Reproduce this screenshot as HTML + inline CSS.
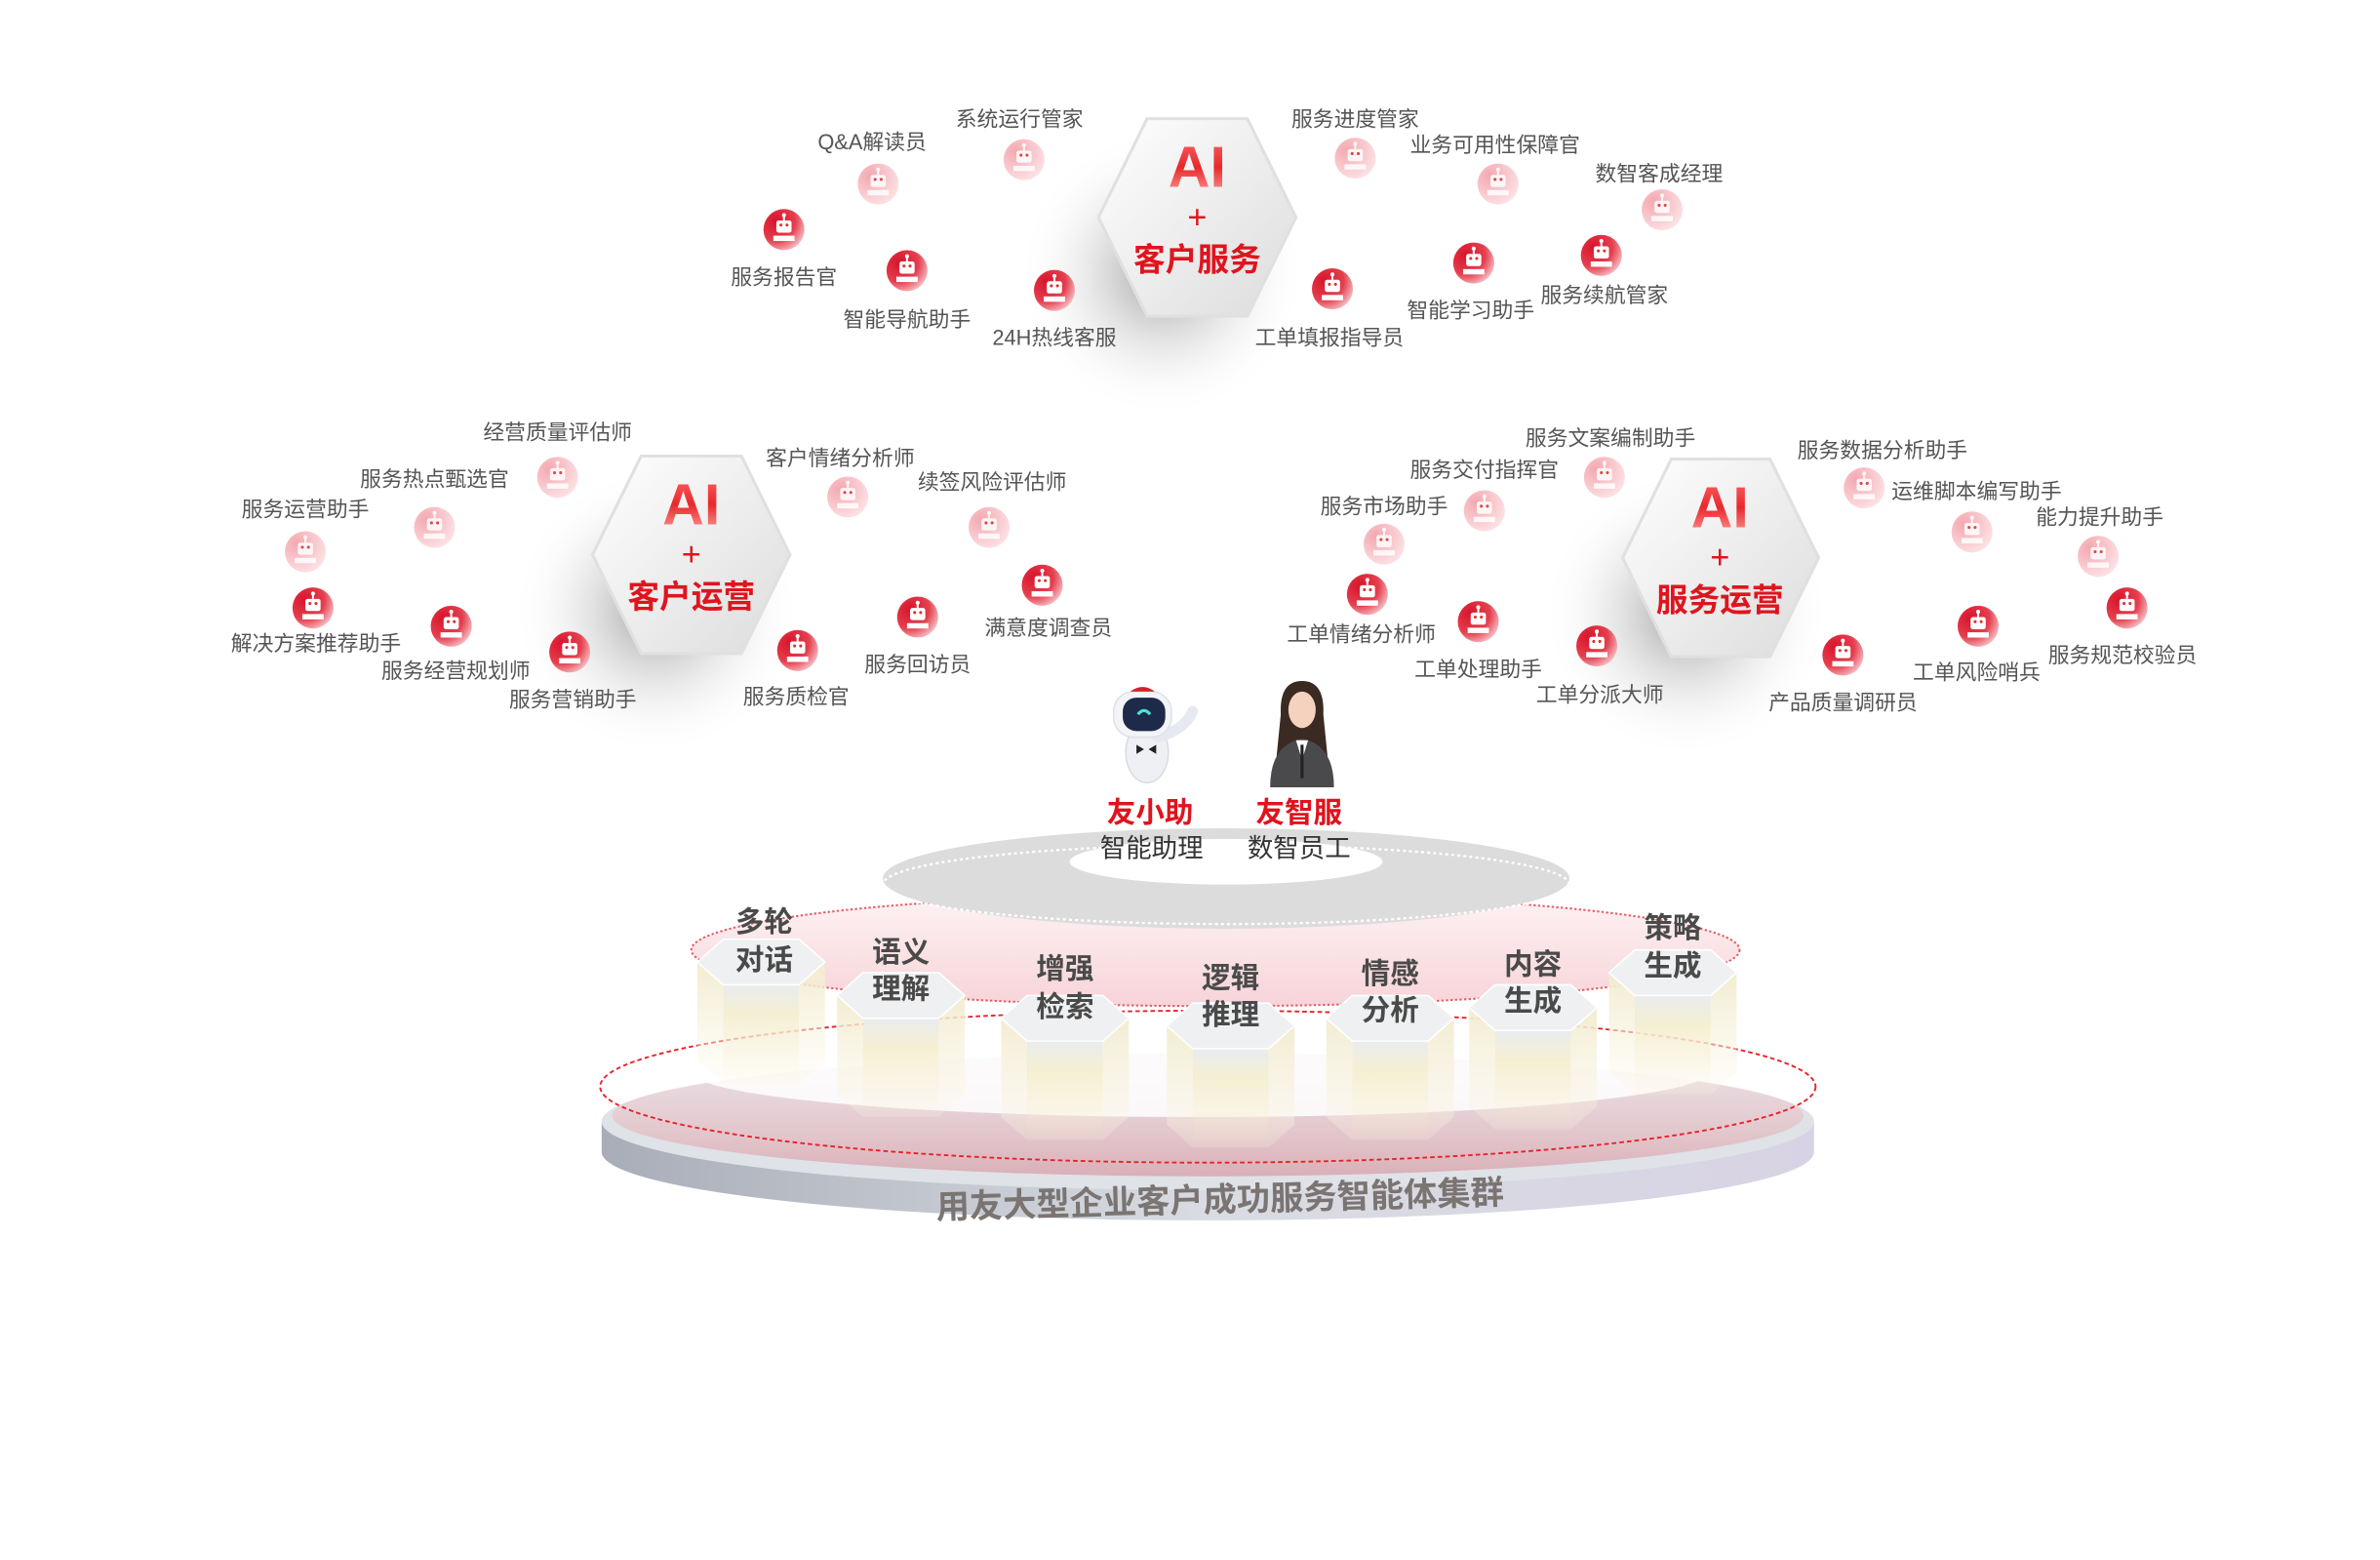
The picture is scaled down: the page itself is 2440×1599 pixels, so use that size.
<!DOCTYPE html>
<html><head><meta charset="utf-8"><style>
html,body{margin:0;padding:0;background:#fff;}
svg{display:block;}
text{font-family:"Liberation Sans","Noto Sans CJK SC",sans-serif;}
.l{font-size:14px;fill:#555;text-anchor:middle;}
.p{font-size:19px;font-weight:bold;fill:#4a4a4a;text-anchor:middle;}
</style></head><body>
<svg width="2440" height="1599" viewBox="0 0 1566.5 1026.4" xmlns="http://www.w3.org/2000/svg">
<defs>
<radialGradient id="dk" cx="0.3" cy="0.3" r="0.8"><stop offset="0" stop-color="#d8142b"/><stop offset="0.6" stop-color="#e4404f"/><stop offset="1" stop-color="#f7c6cb"/></radialGradient>
<radialGradient id="lt" cx="0.3" cy="0.3" r="0.8"><stop offset="0" stop-color="#f3a8b0"/><stop offset="1" stop-color="#fde4e7"/></radialGradient>
<symbol id="rb" viewBox="-14 -14 28 28" overflow="visible">
<line x1="0" y1="-9" x2="0" y2="-6" stroke="#fff" stroke-width="1.3"/><circle cx="0" cy="-9.5" r="1.3" fill="#fff"/>
<rect x="-5" y="-6" width="10" height="8" rx="1.5" fill="#fff"/>
<circle cx="-2" cy="-3" r="1" fill="#d33"/><circle cx="2" cy="-3" r="1" fill="#d33"/>
<rect x="-7" y="4" width="14" height="3.5" fill="#fff"/>
</symbol>
<g id="D"><circle r="13.5" fill="url(#dk)"/><use href="#rb" x="-14" y="-14" width="28" height="28"/></g>
<g id="L"><circle r="13.5" fill="url(#lt)"/><use href="#rb" x="-14" y="-14" width="28" height="28" opacity="0.85"/></g>
<radialGradient id="sh" cx="0.5" cy="0.5" r="0.5"><stop offset="0" stop-color="#888" stop-opacity="0.8"/><stop offset="1" stop-color="#fff" stop-opacity="0"/></radialGradient>
<linearGradient id="hx" x1="0" y1="0" x2="1" y2="1"><stop offset="0" stop-color="#fff"/><stop offset="1" stop-color="#dcdcdc"/></linearGradient>
<linearGradient id="ai" x1="0" y1="0" x2="0" y2="1"><stop offset="0" stop-color="#ff6a6a"/><stop offset="0.5" stop-color="#e8282c"/><stop offset="1" stop-color="#ffb0a8"/></linearGradient>
<linearGradient id="col" x1="0" y1="0" x2="0" y2="1"><stop offset="0" stop-color="#e9ecef"/><stop offset="0.3" stop-color="#f5efd2"/><stop offset="1" stop-color="#faf3dc" stop-opacity="0.2"/></linearGradient>
<linearGradient id="colS" x1="0" y1="0" x2="0" y2="1"><stop offset="0" stop-color="#f2ecd0"/><stop offset="1" stop-color="#fbf6e4" stop-opacity="0.2"/></linearGradient>
<linearGradient id="side" x1="0" y1="0" x2="1" y2="0"><stop offset="0" stop-color="#a8adb8"/><stop offset="0.5" stop-color="#d9dce2"/><stop offset="1" stop-color="#d8d3e4"/></linearGradient>
<linearGradient id="pk" x1="0" y1="0" x2="0" y2="1"><stop offset="0" stop-color="#f7dbde" stop-opacity="0.4"/><stop offset="1" stop-color="#d9a9b1"/></linearGradient>
<linearGradient id="pk2" x1="0" y1="0" x2="0" y2="1"><stop offset="0" stop-color="#fdf0f1"/><stop offset="1" stop-color="#f5c9cf"/></linearGradient>
</defs>

<g>
<ellipse cx="765" cy="180" rx="95" ry="95" fill="url(#sh)"/>
<polygon points="723,143 755,78 821,78 853,143 821,208 755,208" fill="url(#hx)" stroke="#e0e0e0" stroke-width="2"/>
<text x="788" y="123" font-size="38" font-weight="bold" fill="url(#ai)" text-anchor="middle">AI</text>
<text x="788" y="150" font-size="22" fill="#e0141e" text-anchor="middle">+</text>
<text x="788" y="178" font-size="21" font-weight="bold" fill="#e0141e" text-anchor="middle">客户服务</text>
</g>
<g>
<ellipse cx="432" cy="402" rx="95" ry="95" fill="url(#sh)"/>
<polygon points="390,365 422,300 488,300 520,365 488,430 422,430" fill="url(#hx)" stroke="#e0e0e0" stroke-width="2"/>
<text x="455" y="345" font-size="38" font-weight="bold" fill="url(#ai)" text-anchor="middle">AI</text>
<text x="455" y="372" font-size="22" fill="#e0141e" text-anchor="middle">+</text>
<text x="455" y="400" font-size="21" font-weight="bold" fill="#e0141e" text-anchor="middle">客户运营</text>
</g>
<g>
<ellipse cx="1110" cy="404" rx="95" ry="95" fill="url(#sh)"/>
<polygon points="1068,367 1100,302 1165,302 1197,367 1165,432 1100,432" fill="url(#hx)" stroke="#e0e0e0" stroke-width="2"/>
<text x="1132" y="347" font-size="38" font-weight="bold" fill="url(#ai)" text-anchor="middle">AI</text>
<text x="1132" y="374" font-size="22" fill="#e0141e" text-anchor="middle">+</text>
<text x="1132" y="402" font-size="21" font-weight="bold" fill="#e0141e" text-anchor="middle">服务运营</text>
</g>

<use href="#L" x="578" y="121"/><text class="l" x="574" y="98">Q&amp;A解读员</text>
<use href="#L" x="674" y="105"/><text class="l" x="671" y="83">系统运行管家</text>
<use href="#D" x="516" y="151"/><text class="l" x="516" y="187">服务报告官</text>
<use href="#D" x="597" y="178"/><text class="l" x="597" y="215">智能导航助手</text>
<use href="#D" x="694" y="191"/><text class="l" x="694" y="227">24H热线客服</text>
<use href="#L" x="892" y="104"/><text class="l" x="892" y="83">服务进度管家</text>
<use href="#L" x="986" y="121"/><text class="l" x="984" y="100">业务可用性保障官</text>
<use href="#L" x="1094" y="138"/><text class="l" x="1092" y="119">数智客成经理</text>
<use href="#D" x="877" y="190"/><text class="l" x="875" y="227">工单填报指导员</text>
<use href="#D" x="970" y="173"/><text class="l" x="968" y="209">智能学习助手</text>
<use href="#D" x="1054" y="168"/><text class="l" x="1056" y="199">服务续航管家</text>

<use href="#L" x="367" y="314"/><text class="l" x="367" y="289">经营质量评估师</text>
<use href="#L" x="286" y="347"/><text class="l" x="286" y="320">服务热点甄选官</text>
<use href="#L" x="201" y="363"/><text class="l" x="201" y="340">服务运营助手</text>
<use href="#D" x="206" y="400"/><text class="l" x="208" y="428">解决方案推荐助手</text>
<use href="#D" x="297" y="412"/><text class="l" x="300" y="446">服务经营规划师</text>
<use href="#D" x="375" y="429"/><text class="l" x="377" y="465">服务营销助手</text>
<use href="#L" x="558" y="327"/><text class="l" x="553" y="306">客户情绪分析师</text>
<use href="#L" x="651" y="347"/><text class="l" x="653" y="322">续签风险评估师</text>
<use href="#D" x="686" y="385"/><text class="l" x="690" y="418">满意度调查员</text>
<use href="#D" x="604" y="406"/><text class="l" x="604" y="442">服务回访员</text>
<use href="#D" x="525" y="428"/><text class="l" x="524" y="463">服务质检官</text>

<use href="#L" x="1056" y="314"/><text class="l" x="1060" y="293">服务文案编制助手</text>
<use href="#L" x="977" y="336"/><text class="l" x="977" y="314">服务交付指挥官</text>
<use href="#L" x="911" y="358"/><text class="l" x="911" y="338">服务市场助手</text>
<use href="#D" x="900" y="391"/><text class="l" x="896" y="422">工单情绪分析师</text>
<use href="#D" x="973" y="409"/><text class="l" x="973" y="445">工单处理助手</text>
<use href="#D" x="1051" y="425"/><text class="l" x="1053" y="462">工单分派大师</text>
<use href="#L" x="1227" y="321"/><text class="l" x="1239" y="301">服务数据分析助手</text>
<use href="#L" x="1298" y="350"/><text class="l" x="1301" y="328">运维脚本编写助手</text>
<use href="#L" x="1381" y="366"/><text class="l" x="1382" y="345">能力提升助手</text>
<use href="#D" x="1400" y="400"/><text class="l" x="1397" y="436">服务规范校验员</text>
<use href="#D" x="1302" y="412"/><text class="l" x="1301" y="447">工单风险哨兵</text>
<use href="#D" x="1213" y="431"/><text class="l" x="1213" y="467">产品质量调研员</text>

<path d="M396,738 L396,758 A399,45 0 0 0 1194,758 L1194,738 Z" fill="url(#side)"/>
<ellipse cx="795" cy="738" rx="399" ry="45" fill="#dfe2e7"/>
<ellipse cx="795" cy="734" rx="392" ry="40" fill="url(#pk)" opacity="0.9"/>
<ellipse cx="795" cy="715" rx="400" ry="50" fill="none" stroke="#e8202a" stroke-width="1.2" stroke-dasharray="3,2"/>
<ellipse cx="790" cy="705" rx="335" ry="30" fill="#fff" opacity="0.85"/>
<text x="803" y="797" font-size="22" font-weight="bold" fill="#7a7472" text-anchor="middle" transform="rotate(-1.5 803 790)">用友大型企业客户成功服务智能体集群</text>

<ellipse cx="800" cy="625" rx="345" ry="37" fill="url(#pk2)" opacity="0.8"/>
<ellipse cx="800" cy="625" rx="345" ry="37" fill="none" stroke="#e85a64" stroke-width="1.3" stroke-dasharray="1.5,1.5"/>
<ellipse cx="807" cy="578" rx="226" ry="33" fill="#dcdcdc"/>
<ellipse cx="807" cy="582" rx="226" ry="26" fill="none" stroke="#fff" stroke-width="1.5" stroke-dasharray="2,2"/>
<ellipse cx="807" cy="567" rx="103" ry="15" fill="#fff"/>

<g>
<g transform="translate(501,618)"><polygon points="-42,15 -25,30 -25,95 -42,80" fill="url(#colS)"/><rect x="-25" y="30" width="50" height="65" fill="url(#col)"/><polygon points="42,15 25,30 25,95 42,80" fill="url(#colS)"/><polygon points="-42,15 -25,0 25,0 42,15 25,30 -25,30" fill="#eef0f2" stroke="#fff"/></g>
<g transform="translate(593,640)"><polygon points="-42,15 -25,30 -25,95 -42,80" fill="url(#colS)"/><rect x="-25" y="30" width="50" height="65" fill="url(#col)"/><polygon points="42,15 25,30 25,95 42,80" fill="url(#colS)"/><polygon points="-42,15 -25,0 25,0 42,15 25,30 -25,30" fill="#eef0f2" stroke="#fff"/></g>
<g transform="translate(701,655)"><polygon points="-42,15 -25,30 -25,95 -42,80" fill="url(#colS)"/><rect x="-25" y="30" width="50" height="65" fill="url(#col)"/><polygon points="42,15 25,30 25,95 42,80" fill="url(#colS)"/><polygon points="-42,15 -25,0 25,0 42,15 25,30 -25,30" fill="#eef0f2" stroke="#fff"/></g>
<g transform="translate(810,660)"><polygon points="-42,15 -25,30 -25,95 -42,80" fill="url(#colS)"/><rect x="-25" y="30" width="50" height="65" fill="url(#col)"/><polygon points="42,15 25,30 25,95 42,80" fill="url(#colS)"/><polygon points="-42,15 -25,0 25,0 42,15 25,30 -25,30" fill="#eef0f2" stroke="#fff"/></g>
<g transform="translate(915,655)"><polygon points="-42,15 -25,30 -25,95 -42,80" fill="url(#colS)"/><rect x="-25" y="30" width="50" height="65" fill="url(#col)"/><polygon points="42,15 25,30 25,95 42,80" fill="url(#colS)"/><polygon points="-42,15 -25,0 25,0 42,15 25,30 -25,30" fill="#eef0f2" stroke="#fff"/></g>
<g transform="translate(1009,648)"><polygon points="-42,15 -25,30 -25,95 -42,80" fill="url(#colS)"/><rect x="-25" y="30" width="50" height="65" fill="url(#col)"/><polygon points="42,15 25,30 25,95 42,80" fill="url(#colS)"/><polygon points="-42,15 -25,0 25,0 42,15 25,30 -25,30" fill="#eef0f2" stroke="#fff"/></g>
<g transform="translate(1101,625)"><polygon points="-42,15 -25,30 -25,95 -42,80" fill="url(#colS)"/><rect x="-25" y="30" width="50" height="65" fill="url(#col)"/><polygon points="42,15 25,30 25,95 42,80" fill="url(#colS)"/><polygon points="-42,15 -25,0 25,0 42,15 25,30 -25,30" fill="#eef0f2" stroke="#fff"/></g>
</g>
<text class="p" x="503" y="613">多轮</text><text class="p" x="503" y="638">对话</text>
<text class="p" x="593" y="633">语义</text><text class="p" x="593" y="657">理解</text>
<text class="p" x="701" y="644">增强</text><text class="p" x="701" y="669">检索</text>
<text class="p" x="810" y="650">逻辑</text><text class="p" x="810" y="674">推理</text>
<text class="p" x="915" y="647">情感</text><text class="p" x="915" y="671">分析</text>
<text class="p" x="1009" y="641">内容</text><text class="p" x="1009" y="665">生成</text>
<text class="p" x="1101" y="617">策略</text><text class="p" x="1101" y="642">生成</text>

<g>
<ellipse cx="755" cy="495" rx="14" ry="20" fill="#eef0f4" stroke="#d8dce4"/>
<path d="M762,485 Q780,480 785,468" stroke="#e6e9ef" stroke-width="7" fill="none" stroke-linecap="round"/>
<rect x="733" y="455" width="38" height="30" rx="13" fill="#f2f4f7" stroke="#dde1e8"/>
<rect x="739" y="459" width="28" height="22" rx="9" fill="#1d2a4a"/>
<path d="M749,470 Q753,465 757,470" stroke="#4fe0d0" stroke-width="2" fill="none"/>
<path d="M744,455 Q752,449 760,455" fill="#d8202a"/>
<path d="M748,490 l5,3 l-5,3 z M761,490 l-5,3 l5,3 z" fill="#222"/>
</g>
<g>
<path d="M843,470 Q842,448 857,448 Q872,448 871,470 L874,500 L840,500 Z" fill="#3a2a22"/>
<ellipse cx="857" cy="467" rx="9" ry="12" fill="#f5d2bd"/>
<path d="M836,518 Q836,490 857,486 Q878,490 878,518 Z" fill="#4a4a4c"/>
<path d="M853,487 L857,500 L861,487 Z" fill="#fff"/>
<line x1="857" y1="490" x2="857" y2="512" stroke="#222" stroke-width="2"/>
</g>
<text x="757" y="541" font-size="19" font-weight="bold" fill="#e0141e" text-anchor="middle">友小助</text>
<text x="758" y="564" font-size="17" fill="#333" text-anchor="middle">智能助理</text>
<text x="855" y="541" font-size="19" font-weight="bold" fill="#e0141e" text-anchor="middle">友智服</text>
<text x="855" y="564" font-size="17" fill="#333" text-anchor="middle">数智员工</text>
</svg>
</body></html>
